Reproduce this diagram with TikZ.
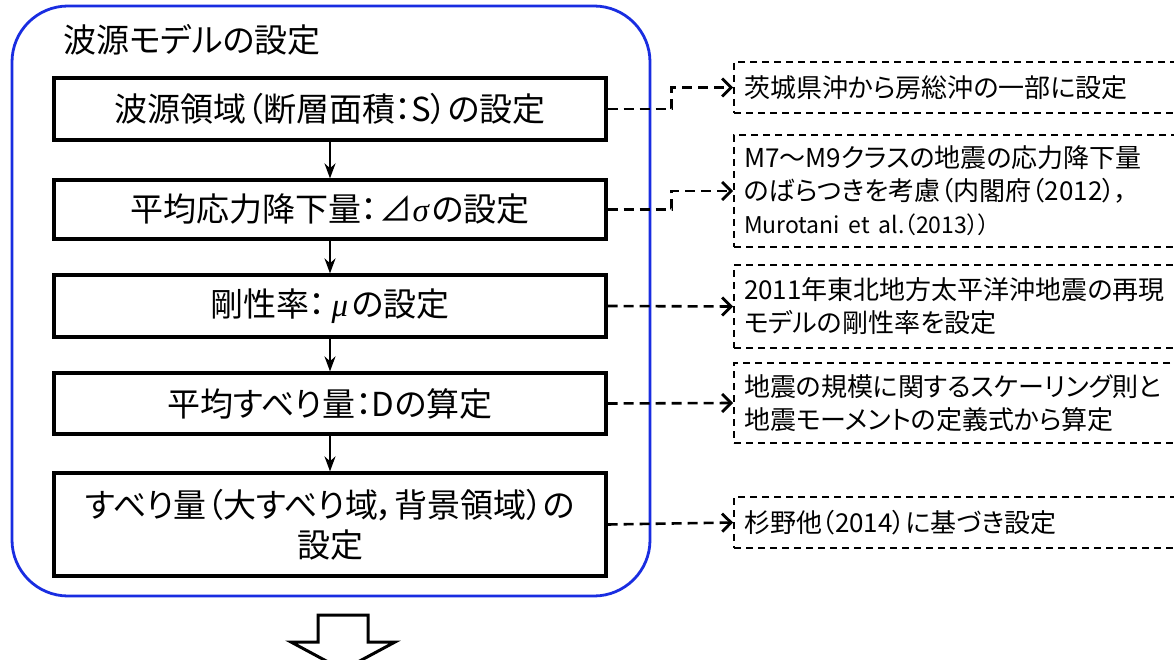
\documentclass[tikz,border=0pt]{standalone}
\usepackage{fontspec}
\setmainfont{Noto Sans CJK JP}[RawFeature=+palt]
\newfontfamily\grk{Liberation Serif}
\usetikzlibrary{arrows.meta}
\definecolor{frameblue}{RGB}{25,45,225}
\tikzset{
  frame/.style={draw=frameblue, line width=2.8pt, rounded corners=56pt, minimum width=638pt, minimum height=590pt, inner sep=0pt},
  mainbox/.style={draw=black, line width=3.2pt, minimum width=552pt, inner sep=0pt, font=\fontsize{33}{40}\selectfont, align=center},
  notebox/.style={draw=black, line width=1.8pt, dash pattern=on 7pt off 5pt, minimum width=466pt, text width=446pt, inner xsep=10pt, inner ysep=0pt, font=\fontsize{26}{33}\selectfont, align=left},
  flow/.style={line width=2.2pt, -{Stealth[length=15pt,width=11pt]}},
  link/.style={line width=2.6pt, dash pattern=on 10pt off 6pt, -{Straight Barb[length=9pt,width=18pt,line width=2.8pt]}},
  hollow/.style={draw=black, line width=3pt, line join=miter, fill=white},
}
\begin{document}
\begin{tikzpicture}[x=1pt,y=-1pt]
\useasboundingbox (0,0) rectangle (1174,660);
\clip (0,0) rectangle (1174,660);
\fill[white] (0,0) rectangle (1174,660);

% main frame
\node[frame] (frame) at (331,301) {};
\node[anchor=west, font=\fontsize{33}{36}\selectfont] (title) at (60,40) {波源モデルの設定};

% main steps
\node[mainbox, minimum height=62pt] (b1) at (330,109) {波源領域（断層面積：S）の設定};
\node[mainbox, minimum height=59pt] (b2) at (330,209.5) {平均応力降下量：\kern2pt⊿{\grk\itshape σ}\kern3pt の設定};
\node[mainbox, minimum height=62pt] (b3) at (330,306) {剛性率：\kern6pt{\grk\itshape μ}\kern4pt の設定};
\node[mainbox, minimum height=61pt] (b4) at (330,403.5) {平均すべり量：Dの算定};
\node[mainbox, minimum height=103pt] (b5) at (330,524.5) {すべり量（大すべり域，背景領域）の\\設定};

\draw[flow] (b1) -- (b2);
\draw[flow] (b2) -- (b3);
\draw[flow] (b3) -- (b4);
\draw[flow] (b4) -- (b5);

% notes
\node[notebox, minimum height=51pt] (r1) at (967,87.5) {茨城県沖から房総沖の一部に設定};
\node[notebox, minimum height=112pt] (r2) at (967,191) {M7～M9クラスの地震の応力降下量\\のばらつきを考慮（内閣府（2012），\\{\fontsize{23}{30}\selectfont Murotani et al.（2013））}};
\node[notebox, minimum height=83pt] (r3) at (967,306.5) {2011年東北地方太平洋沖地震の再現\\モデルの剛性率を設定};
\node[notebox, minimum height=80pt] (r4) at (967,403) {地震の規模に関するスケーリング則と\\地震モーメントの定義式から算定};
\node[notebox, minimum height=51pt] (r5) at (967,522.5) {杉野他（2014）に基づき設定};

\draw[link] (b1.east) -- ++(64,0) |- (r1.west);
\draw[link] (b2.east) -- ++(64,0) |- (r2.west);
\draw[link] (b3.east) -- (r3.west);
\draw[link] (b4.east) -- (r4.west);
\draw[link] (b5.east) -- (r5.west);

% output arrow
\draw[hollow] (318,615) -- (368,615) -- (368,642) -- (395,642) -- (343,670) -- (291,642) -- (318,642) -- cycle;
\end{tikzpicture}
\end{document}
